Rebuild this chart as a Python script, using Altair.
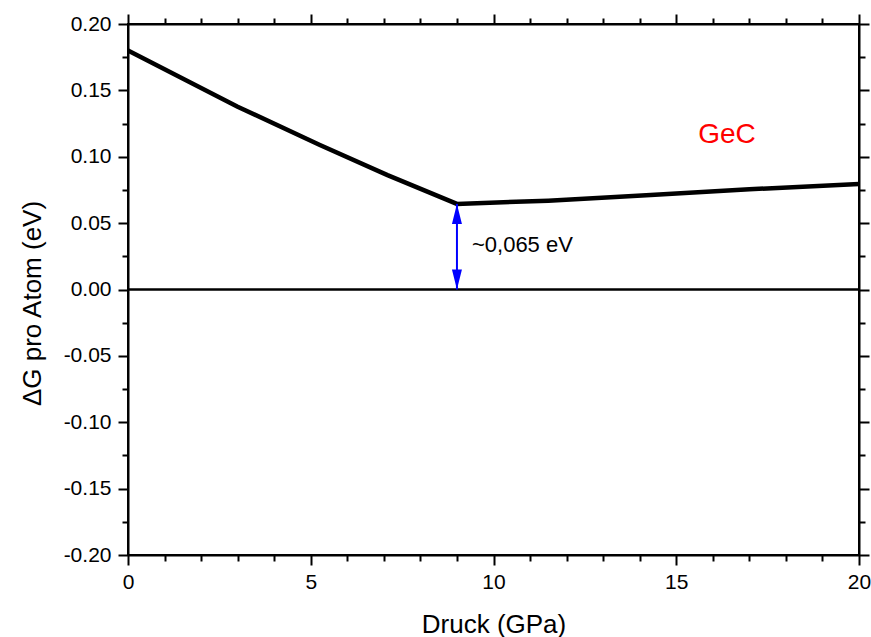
import altair as alt
import pandas as pd

# Data
pressure = [0, 1, 3, 5.25, 7.1, 9, 11.5, 14.3, 17, 20]
delta_g = [0.180, 0.166, 0.1377, 0.1088, 0.0862, 0.0645, 0.0669, 0.0712, 0.0755, 0.0795]

x_ticks = [0, 1, 2, 3, 4, 5, 6, 7, 8, 9, 10, 11, 12, 13, 14, 15, 16, 17, 18, 19, 20]
y_ticks = [-0.2, -0.175, -0.15, -0.125, -0.1, -0.075, -0.05, -0.025, 0.0,
           0.025, 0.05, 0.075, 0.1, 0.125, 0.15, 0.175, 0.2]

zero_level = [0.0]
gap_pressure = [9]
gap_low = [0.0]
gap_high = [0.0645]
gap_label = ["~0,065 eV"]
material_label = ["GeC"]
material_x = [15.6]
material_y = [0.1106]

FONT = "Liberation Sans"

df = pd.DataFrame({"p": pressure, "g": delta_g})
zero_df = pd.DataFrame({"g": zero_level})
gap_df = pd.DataFrame({"p": gap_pressure, "lo": gap_low, "hi": gap_high, "label": gap_label})
mat_df = pd.DataFrame({"p": material_x, "g": material_y, "label": material_label})

xscale = alt.Scale(domain=[0, 20], nice=False, zero=False)
yscale = alt.Scale(domain=[-0.2, 0.2], nice=False, zero=False)

x_tick_size = {"condition": {"test": "datum.value % 5 === 0", "value": 10}, "value": 6}
y_tick_size = {"condition": {"test": "abs(round(datum.value * 1000)) % 50 === 0", "value": 10}, "value": 6}

common_axis = dict(
    domainColor="black", domainWidth=2, tickColor="black", tickWidth=2,
    grid=False, labelFont=FONT, titleFont=FONT, labelColor="black", titleColor="black",
    labelFontSize=21, titleFontSize=26, titleFontWeight="normal", labelFlush=False,
)

x_axis_bottom = alt.Axis(
    orient="bottom", values=x_ticks, tickSize=x_tick_size, labelPadding=6,
    labelExpr="datum.value % 5 === 0 ? datum.label : ''",
    title="Druck (GPa)", titleBaseline="alphabetic", titleY=77,
    **common_axis,
)
y_axis_left = alt.Axis(
    orient="left", values=y_ticks, tickSize=y_tick_size, labelPadding=7,
    labelExpr=("abs(round(datum.value * 1000)) % 50 === 0 ? "
               "(datum.value < -0.0001 ? '-' + format(abs(datum.value), '.2f') "
               ": format(abs(datum.value), '.2f')) : ''"),
    title="\u0394G pro Atom (eV)", titleX=-96, titleY=279, titleAngle=270,
    titleAlign="center", titleBaseline="middle",
    **common_axis,
)
x_axis_top = alt.Axis(orient="top", values=x_ticks, tickSize=x_tick_size, labels=False,
                      title=None, **common_axis)
y_axis_right = alt.Axis(orient="right", values=y_ticks, tickSize=y_tick_size, labels=False,
                        title=None, **common_axis)

main = alt.Chart(df).mark_line(color="black", strokeWidth=4.5).encode(
    x=alt.X("p:Q", scale=xscale, axis=x_axis_bottom),
    y=alt.Y("g:Q", scale=yscale, axis=y_axis_left),
)

mirror = alt.Chart(df).mark_line(opacity=0).encode(
    x=alt.X("p:Q", scale=xscale, axis=x_axis_top),
    y=alt.Y("g:Q", scale=yscale, axis=y_axis_right),
)

zero = alt.Chart(zero_df).mark_rule(color="black", strokeWidth=2.5).encode(
    y=alt.Y("g:Q", scale=yscale, axis=None),
)

arrow_shaft = alt.Chart(gap_df).mark_rule(color="#0000ff", strokeWidth=2).encode(
    x=alt.X("p:Q", scale=xscale, axis=None),
    y=alt.Y("lo:Q", scale=yscale, axis=None),
    y2="hi:Q",
)

head_up = alt.Chart(gap_df).mark_point(
    shape="M0,0 L-0.5,2 L0.5,2 Z", filled=True, color="#0000ff", opacity=1, size=400,
).encode(
    x=alt.X("p:Q", scale=xscale, axis=None),
    y=alt.Y("hi:Q", scale=yscale, axis=None),
)

head_down = alt.Chart(gap_df).mark_point(
    shape="M0,0 L-0.5,-2 L0.5,-2 Z", filled=True, color="#0000ff", opacity=1, size=400,
).encode(
    x=alt.X("p:Q", scale=xscale, axis=None),
    y=alt.Y("lo:Q", scale=yscale, axis=None),
)

gap_text = alt.Chart(gap_df).transform_calculate(
    mid="(datum.lo + datum.hi) / 2"
).mark_text(
    font=FONT, fontSize=22, color="black", align="left", baseline="middle", dx=15, dy=-2,
).encode(
    x=alt.X("p:Q", scale=xscale, axis=None),
    y=alt.Y("mid:Q", scale=yscale, axis=None),
    text="label:N",
)

mat_text = alt.Chart(mat_df).mark_text(
    font=FONT, fontSize=28, color="#ff0000", align="left", baseline="alphabetic",
).encode(
    x=alt.X("p:Q", scale=xscale, axis=None),
    y=alt.Y("g:Q", scale=yscale, axis=None),
    text="label:N",
)

chart = alt.layer(
    main, mirror, zero, arrow_shaft, head_up, head_down, gap_text, mat_text
).resolve_axis(
    x="independent", y="independent"
).properties(
    width=731, height=531,
    autosize=alt.AutoSizeParams(type="none"),
    padding={"left": 128, "top": 24, "right": 12, "bottom": 82},
    background="white",
).configure_view(stroke="black", strokeWidth=2)

chart.save("out.html", embed_options={"renderer": "svg", "actions": False})
